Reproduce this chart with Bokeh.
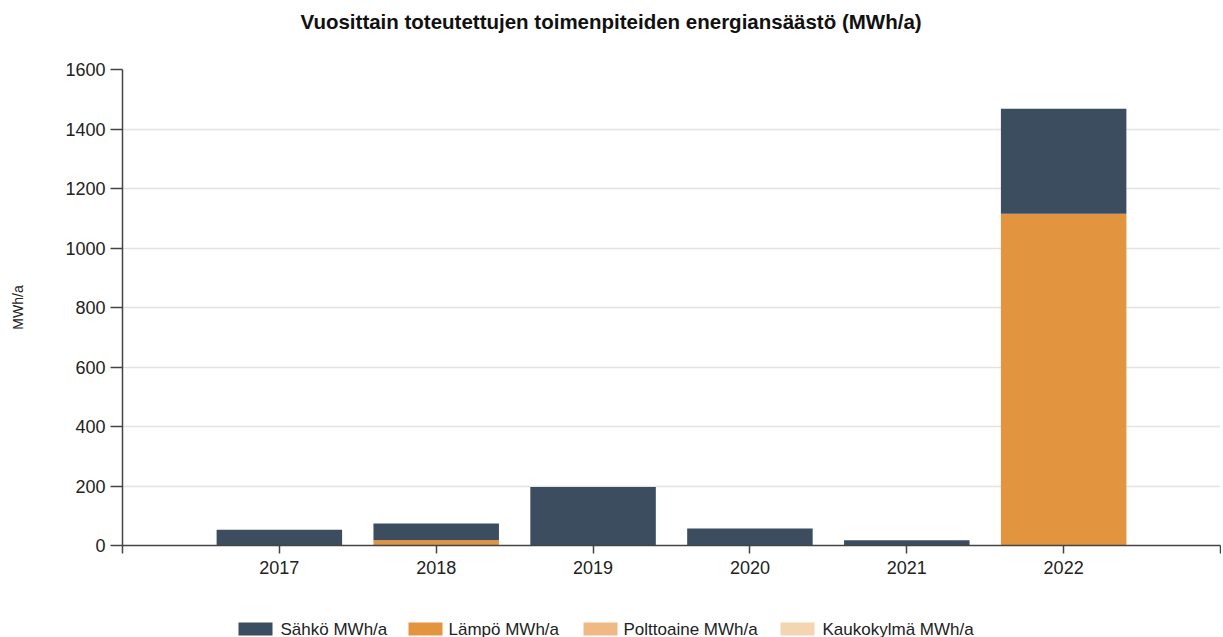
from bokeh.plotting import figure
from bokeh.layouts import column
from bokeh.models import Range1d, FixedTicker, ColumnDataSource, Title
from bokeh.core.properties import value
from bokeh.embed import file_html
from bokeh.resources import INLINE

# ---- data ----
years = [2017, 2018, 2019, 2020, 2021, 2022]
sahko = [53, 56, 197, 57, 18, 353]
lampo = [0, 18, 0, 0, 0, 1115]
polttoaine = [0, 0, 0, 0, 0, 0]
kaukokylma = [0, 0, 0, 0, 0, 0]
series_names = ["Sähkö MWh/a", "Lämpö MWh/a", "Polttoaine MWh/a", "Kaukokylmä MWh/a"]
series_colors = ["#3b4d5e", "#e3943f", "#efb985", "#f4d5b1"]
y_ticks = [0, 200, 400, 600, 800, 1000, 1200, 1400, 1600]
title_text = "Vuosittain toteutettujen toimenpiteiden energiansäästö (MWh/a)"
y_label = "MWh/a"

FONT = "Liberation Sans"
LEFT, FW = 122, 1098

source = ColumnDataSource(dict(year=years, s=sahko, l=lampo, p=polttoaine, k=kaukokylma))

p = figure(
    output_backend="svg", toolbar_location=None,
    frame_width=FW, frame_height=476,
    min_border_left=LEFT, min_border_right=1, min_border_top=69, min_border_bottom=50,
    x_range=Range1d(years[0] - 1, years[-1] + 1), y_range=Range1d(0, 1600),
)
p.outline_line_color = None
p.background_fill_color = "white"
p.border_fill_color = "white"

# title: spacer next to the frame, then the title text above it (centred on the page)
p.add_layout(Title(text=" ", text_font_size="31px", standoff=0), "above")
p.add_layout(Title(text=title_text, align="left", offset=178, text_font=FONT,
                   text_font_size="20.5px", text_font_style="bold",
                   text_color="#111111", standoff=0), "above")

# stacked bars: bottom -> top
stack_keys = ["k", "p", "l", "s"]
stack_colors = [series_colors[3], series_colors[2], series_colors[1], series_colors[0]]
p.vbar_stack(stack_keys, x="year", width=0.8, color=stack_colors,
             line_color=None, source=source)

# axes
xa = p.xaxis[0]
xa.ticker = FixedTicker(ticks=list(range(years[0] - 1, years[-1] + 2)))
overrides = {years[0] - 1: "", years[-1] + 1: ""}
overrides.update({y: str(y) for y in years})
xa.major_label_overrides = overrides
xa.major_tick_in = 0
xa.major_tick_out = 8
xa.minor_tick_line_color = None
xa.axis_line_color = "#444444"
xa.axis_line_width = 1.5
xa.major_tick_line_color = "#444444"
xa.major_tick_line_width = 1.5
xa.major_label_text_font = FONT
xa.major_label_text_font_size = "18px"
xa.major_label_text_color = "#222222"
xa.major_label_standoff = 7

ya = p.yaxis[0]
ya.ticker = FixedTicker(ticks=y_ticks)
ya.major_tick_in = 0
ya.major_tick_out = 12
ya.minor_tick_line_color = None
ya.axis_line_color = "#444444"
ya.axis_line_width = 1.5
ya.major_tick_line_color = "#444444"
ya.major_tick_line_width = 1.5
ya.major_label_text_font = FONT
ya.major_label_text_font_size = "18px"
ya.major_label_text_color = "#222222"
ya.major_label_standoff = 5
ya.axis_label = y_label
ya.axis_label_text_font = FONT
ya.axis_label_text_font_size = "14px"
ya.axis_label_text_font_style = "normal"
ya.axis_label_text_color = "#222222"
ya.axis_label_standoff = 36

p.xgrid.grid_line_color = None
p.ygrid.grid_line_color = "#e3e3e3"
p.ygrid.grid_line_width = 1.5

# ---- legend strip (separate small figure below the chart, frame aligned with chart) ----
LH = 42
lf = figure(output_backend="svg", toolbar_location=None,
            frame_width=FW, frame_height=LH,
            min_border_left=LEFT, min_border_right=1, min_border_top=0, min_border_bottom=0,
            x_range=Range1d(LEFT, LEFT + FW), y_range=Range1d(0, LH),
            x_axis_type=None, y_axis_type=None)
lf.outline_line_color = None
lf.grid.grid_line_color = None
box_left = [238, 408, 583, 780]
text_left = [280, 448, 623, 822]
yc = 8.5
lf.rect(x=[b + 17 for b in box_left], y=[yc] * 4, width=34, height=13,
        color=series_colors, line_color=None)
lf.text(x=text_left, y=[yc] * 4, text=series_names, text_baseline="middle",
        text_align="left", text_font=value(FONT), text_font_size="17px",
        text_color="#222222")

layout = column(p, lf, spacing=0)
open("out.html", "w").write(file_html(layout, INLINE))
